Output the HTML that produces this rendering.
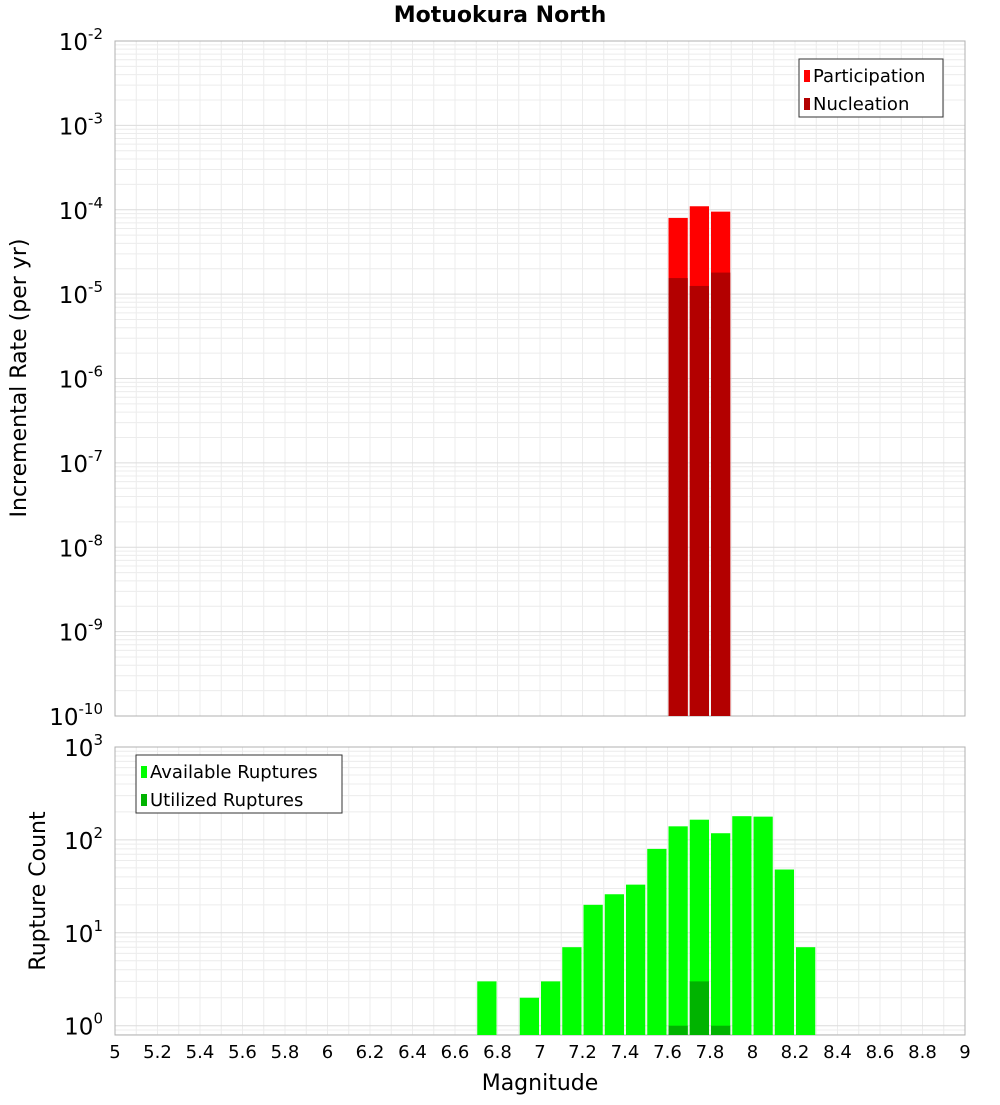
<!DOCTYPE html>
<html><head><meta charset="utf-8"><style>
body{margin:0;background:#fff;font-family:"Liberation Sans","DejaVu Sans",sans-serif}
svg text{font-family:"DejaVu Sans","Liberation Sans",sans-serif}
</style></head><body>
<svg id="c" width="1000" height="1100" xmlns="http://www.w3.org/2000/svg"></svg>
<script>
const categories=[6.75,6.85,6.95,7.05,7.15,7.25,7.35,7.45,7.55,7.65,7.75,7.85,7.95,8.05,8.15,8.25];
const available=[3,0,2,3,7,20,26,33,80,140,165,118,180,178,48,7];
const utilized=[0,0,0,0,0,0,0,0,0,1,3,1,0,0,0,0];
const rateMags=[7.65,7.75,7.85];
const participation=[8e-5,1.1e-4,9.5e-5];
const nucleation=[1.55e-5,1.25e-5,1.8e-5];
const xTicks=[5,5.2,5.4,5.6,5.8,6,6.2,6.4,6.6,6.8,7,7.2,7.4,7.6,7.8,8,8.2,8.4,8.6,8.8,9];
const topExps=[-10,-9,-8,-7,-6,-5,-4,-3,-2];
const botExps=[0,1,2,3];

const S=document.getElementById('c'),NS='http://www.w3.org/2000/svg';
function el(t,a,p){const e=document.createElementNS(NS,t);for(const k in a)e.setAttribute(k,a[k]);(p||S).appendChild(e);return e;}
const X0=115,X1=965;
const x=v=>X0+(v-5)/4*(X1-X0);
const T0=41,T1=716; const yT=v=>T1-(Math.log10(v)+10)/8*(T1-T0);
const B0=747,B1=1035; const dec=(B1-B0)/3.1; const yB=v=>B0+(3-Math.log10(v))*dec;

function grid(yTop,yBot,expLo,expHi,yf,nm){
  const g=el('g',{});
  
  
  for(let v=5;v<=9.001;v+=0.1){el('line',{x1:x(v),x2:x(v),y1:yTop,y2:yBot,stroke:'#ececec','stroke-width':1},g);}
  for(let e=expLo;e<expHi;e++)for(let m=1;m<10;m++){const y=yf(m*Math.pow(10,e));if(y>=yTop&&y<=yBot)el('line',{x1:X0,x2:X1,y1:y,y2:y,stroke:m==1?'#dcdcdc':'#ececec','stroke-width':1},g);}
  el('rect',{x:X0,y:yTop,width:X1-X0,height:yBot-yTop,fill:'none',stroke:'#b0b0b0'},g);
}
grid(T0,T1,-10,-2,yT,'top');
grid(B0,B1,-1,3,yB,'bottom');

// title
let t=el('text',{x:500,y:22,'text-anchor':'middle','font-size':22,'font-weight':'bold'});t.textContent='Motuokura North';


// top bars
const bw=(x(0.1)-x(0))-2;
rateMags.forEach((m,i)=>{
  const r=el('rect',{x:x(m)-bw/2,y:yT(participation[i]),width:bw,height:T1-yT(participation[i]),fill:'#ff0000'});
  
  const n=el('rect',{x:x(m)-bw/2,y:yT(nucleation[i]),width:bw,height:T1-yT(nucleation[i]),fill:'#b30000'});
  
});
categories.forEach((m,i)=>{
  if(available[i]>0){const r=el('rect',{x:x(m)-bw/2,y:yB(available[i]),width:bw,height:B1-yB(available[i]),fill:'#00ff00'});
  }
  if(utilized[i]>0){const r=el('rect',{x:x(m)-bw/2,y:yB(utilized[i]),width:bw,height:B1-yB(utilized[i]),fill:'#00b300'});
  }
});

function ylab(e,y,nm){const tx=el('text',{x:103,y:y+9,'text-anchor':'end','font-size':23});
  
  tx.appendChild(document.createTextNode('10'));const s=el('tspan',{dy:-11,'font-size':15},tx);s.textContent=e;}
topExps.forEach(e=>ylab(e,yT(Math.pow(10,e)),'y-tick-top'));
botExps.forEach(e=>ylab(e,yB(Math.pow(10,e)),'y-tick-bottom'));
xTicks.forEach(v=>{const tx=el('text',{x:x(v),y:1058,'text-anchor':'middle','font-size':18});tx.textContent=String(v);
  });

t=el('text',{x:540,y:1090,'text-anchor':'middle','font-size':22});t.textContent='Magnitude';

t=el('text',{x:0,y:0,'text-anchor':'middle','font-size':22,transform:'translate(26,378) rotate(-90)'});t.textContent='Incremental Rate (per yr)';

t=el('text',{x:0,y:0,'text-anchor':'middle','font-size':22,transform:'translate(45,891) rotate(-90)'});t.textContent='Rupture Count';


function legend(x0,y0,w,items,nm){const g=el('g',{});
  el('rect',{x:x0,y:y0,width:w,height:58,fill:'#fff',stroke:'#333'},g);
  items.forEach((it,i)=>{el('rect',{x:x0+5,y:y0+11+i*28,width:6,height:12,fill:it[1]},g);
    const tx=el('text',{x:x0+14,y:y0+23+i*28,'font-size':18},g);tx.textContent=it[0];});}
legend(799,59,144,[['Participation','#ff0000'],['Nucleation','#b30000']],'legend-top');
legend(136,755,206,[['Available Ruptures','#00ff00'],['Utilized Ruptures','#00b300']],'legend-bottom');
</script>
</body></html>
